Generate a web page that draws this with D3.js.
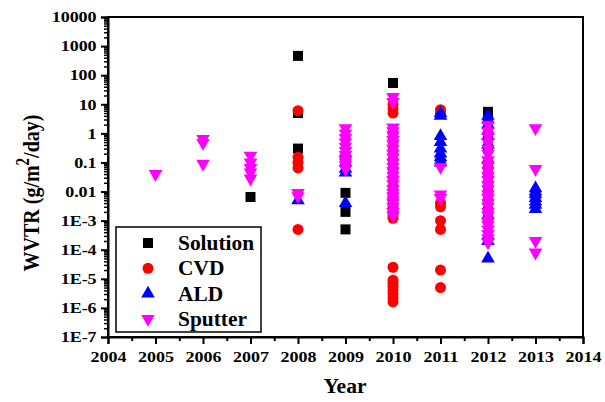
<!DOCTYPE html>
<html>
<head>
<meta charset="utf-8">
<script src="https://d3js.org/d3.v7.min.js"></script>
<style>
  body { margin: 0; background: #fff; }
  svg text { font-family: "Liberation Serif", serif; font-weight: bold; }
</style>
</head>
<body>
<svg id="chart" width="605" height="402"></svg>
<script>
// WVTR values, grouped by year: [year, [values...]]
const solution = [
  [2007, [0.0065]],
  [2008, [460, 5, 0.3]],
  [2009, [0.1, 0.009, 0.002, 0.0005]],
  [2010, [54]],
  [2012, [5.5, 2.5, 0.8, 0.3, 0.002, 0.0018]]
];
const cvd = [
  [2008, [6, 0.15, 0.1, 0.065, 0.0005]],
  [2010, [10, 7, 5, 1.0, 0.5, 0.25, 0.12, 0.06, 0.03, 0.015, 0.008, 0.005, 0.003, 0.002, 0.0015, 0.0012,
          2.5e-5, 9e-6, 7e-6, 5.5e-6, 4e-6, 3e-6, 2.2e-6, 1.6e-6]],
  [2011, [6.5, 5, 0.1, 0.004, 0.003, 0.001, 0.0005, 2e-5, 5e-6]],
  [2012, [0.6, 0.1, 0.07, 0.04, 0.02, 0.01, 0.005, 0.002, 0.001]]
];
const ald = [
  [2008, [0.005]],
  [2009, [0.2, 0.1, 0.06, 0.045, 0.004]],
  [2011, [5, 4, 0.8, 0.5, 0.3, 0.2, 0.15, 0.1]],
  [2012, [4, 3, 2, 1.2, 0.8, 0.4, 0.12, 0.0015, 0.0003, 0.0002, 5e-5]],
  [2013, [0.013, 0.01, 0.008, 0.006, 0.0045, 0.0035, 0.0025]]
];
const sputter = [
  [2005, [0.04]],
  [2006, [0.65, 0.47, 0.09]],
  [2007, [0.17, 0.1, 0.065, 0.045, 0.028]],
  [2008, [0.009, 0.007]],
  [2009, [1.5, 1.0, 0.7, 0.5, 0.35, 0.25, 0.18, 0.13, 0.1, 0.08, 0.06]],
  [2010, [18, 12, 1.6, 1.2, 0.9, 0.6, 0.45, 0.3, 0.2, 0.15, 0.1, 0.07, 0.05, 0.035, 0.025, 0.018,
          0.012, 0.009, 0.007, 0.005, 0.004, 0.003, 0.002, 0.0015]],
  [2011, [0.07, 0.008, 0.006]],
  [2012, [2, 1.2, 0.8, 0.5, 0.3, 0.2, 0.12, 0.08, 0.05, 0.035, 0.025, 0.017, 0.012, 0.008, 0.006,
          0.004, 0.003, 0.002, 0.0015, 0.001, 0.0007, 0.0005, 0.00035, 0.00025, 0.00018]],
  [2013, [1.5, 0.06, 0.0002, 0.00008]]
];

const seriesNames = ['Solution', 'CVD', 'ALD', 'Sputter'];
const yearTicks = [2004, 2005, 2006, 2007, 2008, 2009, 2010, 2011, 2012, 2013, 2014];
const yTickValues = [1e-7, 1e-6, 1e-5, 1e-4, 1e-3, 0.01, 0.1, 1, 10, 100, 1000, 10000];
const yTickLabels = ['1E-7', '1E-6', '1E-5', '1E-4', '1E-3', '0.01', '0.1', '1', '10', '100', '1000', '10000'];

const plotL = 108, plotR = 583, plotT = 17, plotB = 337;
const svg = d3.select('#chart');

const x = d3.scaleLinear().domain([2004, 2014]).range([plotL, plotR]);
const y = d3.scaleLog().domain([1e-7, 1e4]).range([plotB, plotT]);

// series styles
const styles = [
  { fill: '#000000', sym: d3.symbolSquare, size: 100, rot: 0 },
  { fill: '#ff0000', sym: d3.symbolCircle, size: 95, rot: 0 },
  { fill: '#0000ff', sym: d3.symbolTriangle, size: 80, rot: 0 },
  { fill: '#ff00ff', sym: d3.symbolTriangle, size: 80, rot: 180 }
];

const flat = s => s.flatMap(([yr, vals]) => vals.map(v => ({ year: yr, v: v })));
const allSeries = [solution, cvd, ald, sputter].map(flat);

// points
allSeries.forEach((pts, i) => {
  const st = styles[i];
  svg.append('g').selectAll('path')
    .data(pts)
    .enter()
    .append('path')
      .attr('d', d3.symbol().type(st.sym).size(st.size))
      .attr('transform', d => `translate(${x(d.year)},${y(d.v)}) rotate(${st.rot})`)
      .attr('fill', st.fill);
});

// frame
svg.append('rect')
  .attr('x', plotL).attr('y', plotT)
  .attr('width', plotR - plotL).attr('height', plotB - plotT)
  .attr('fill', 'none').attr('stroke', '#000').attr('stroke-width', 2);

// axes use serif bold labels, like the original
const styleAxis = g => g
  .attr('font-family', 'Liberation Serif')
  .attr('font-weight', 'bold')
  .attr('font-size', 15)
  .call(a => a.select('.domain').attr('stroke-width', 2))
  .call(a => a.selectAll('line').attr('stroke-width', 2));

// x axis
const halfYears = yearTicks.slice(0, -1).map(d => d + 0.5);
svg.append('g')
  .attr('transform', `translate(0,${plotB})`)
  .call(d3.axisBottom(x).tickValues(halfYears).tickSize(4).tickFormat(''))
  .call(g => g.select('.domain').remove())
  .call(g => g.selectAll('line').attr('stroke-width', 2));
const xAxis = svg.append('g')
  .attr('transform', `translate(0,${plotB})`)
  .call(d3.axisBottom(x).tickValues(yearTicks).tickSize(7).tickFormat(d3.format('d')))
  .call(styleAxis);
xAxis.selectAll('text')
  .attr('y', 14).attr('dy', '0.71em')
  .attr('transform', 'scale(1.2,1)')
  .attr('fill', '#000');

// y axis
const minorY = [];
for (let e = -7; e < 4; e++) {
  for (let k = 2; k <= 9; k++) minorY.push(k * Math.pow(10, e));
}
svg.append('g')
  .attr('transform', `translate(${plotL},0)`)
  .call(d3.axisLeft(y).tickValues(minorY).tickSize(4).tickFormat(''))
  .call(g => g.select('.domain').remove())
  .call(g => g.selectAll('line').attr('stroke-width', 1.5));
const yAxis = svg.append('g')
  .attr('transform', `translate(${plotL},0)`)
  .call(d3.axisLeft(y).tickValues(yTickValues).tickSize(7).tickFormat((d, i) => yTickLabels[i]))
  .call(styleAxis);
yAxis.selectAll('text')
  .attr('x', -9.5)
  .attr('transform', 'scale(1.2,1)')
  .attr('fill', '#000');

// axis titles
svg.append('text')
  .attr('x', 345).attr('y', 393)
  .attr('text-anchor', 'middle')
  .style('font-size', '20px')
  .attr('transform', 'translate(345,0) scale(1.08,1) translate(-345,0)')
  .text('Year');

const yt = svg.append('text')
  .attr('transform', 'translate(39,193) scale(1.2,1) rotate(-90)')
  .attr('text-anchor', 'middle')
  .style('font-size', '20px');
yt.append('tspan').text('WVTR (g/m');
yt.append('tspan').attr('dy', -8).style('font-size', '15px').text('2');
yt.append('tspan').attr('dy', 8).text('/day)');

// legend
const lg = svg.append('g');
lg.append('rect')
  .attr('x', 116).attr('y', 227).attr('width', 145).attr('height', 105)
  .attr('fill', '#fff').attr('stroke', '#000').attr('stroke-width', 1.5);
seriesNames.forEach((name, i) => {
  const st = styles[i];
  const ry = 243 + i * 25.3;
  lg.append('path')
    .attr('d', d3.symbol().type(st.sym).size(st.size))
    .attr('transform', `translate(148,${ry}) rotate(${st.rot})`)
    .attr('fill', st.fill);
  lg.append('text')
    .attr('x', 0).attr('y', 0)
    .attr('transform', `translate(178,${ry + 7}) scale(1.07,1)`)
    .style('font-size', '20px')
    .text(name);
});
</script>
</body>
</html>
